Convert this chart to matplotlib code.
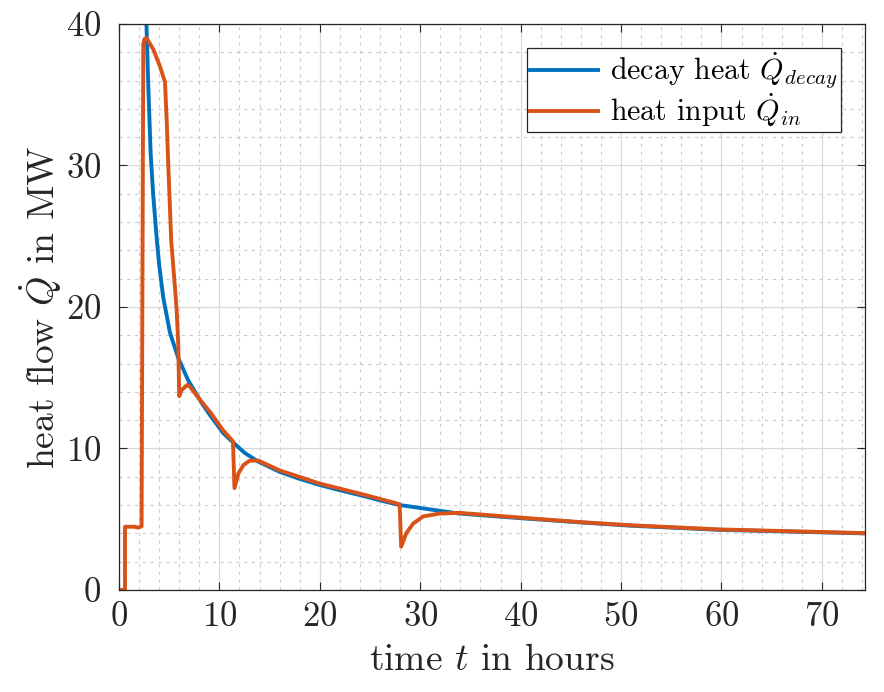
import matplotlib
matplotlib.use("Agg")
import matplotlib.pyplot as plt
from matplotlib.ticker import MultipleLocator

plt.rcParams['font.family'] = 'serif'
plt.rcParams['font.serif'] = ['cmr10']
plt.rcParams['mathtext.fontset'] = 'cm'
plt.rcParams['axes.formatter.use_mathtext'] = True

# decay heat
t_decay = [2.7, 2.92, 3.15, 3.4, 3.75, 4.0, 4.4, 5.07, 5.9, 6.9, 7.7, 8.3, 9.05, 10.4,
           11.4, 12.5, 13.8, 16.0, 18.0, 20.0, 22.0, 24.6, 26.0, 28.0, 33.9, 39.9,
           45.9, 50.8, 59.8, 74.3]
q_decay = [40.8, 35.6, 30.9, 28.0, 24.9, 23.0, 20.7, 18.2, 16.4, 14.8, 13.85, 13.15, 12.37, 11.07,
           10.4, 9.7, 9.1, 8.35, 7.85, 7.42, 7.05, 6.6, 6.33, 6.0, 5.4, 5.08,
           4.78, 4.55, 4.25, 4.0]

# heat input
t_in = [0.0, 0.6, 0.6, 1.6, 1.9, 2.25, 2.42, 2.55, 2.75, 3.42, 4.08, 4.58, 4.75, 4.9,
        5.2, 5.57, 5.74, 5.9, 6.0, 6.2, 6.8, 7.06, 8.0, 9.05, 10.35, 11.35, 11.5, 11.9,
        12.4, 13.0, 13.9, 16.0, 20.0, 24.6, 27.6, 27.95, 28.1, 28.6, 29.3, 30.3,
        31.9, 33.9, 39.9, 45.9, 50.8, 59.8, 74.3]
q_in = [0.0, 0.0, 4.47, 4.47, 4.4, 4.5, 38.6, 38.95, 39.0, 38.2, 37.0, 35.9, 33.2, 30.2,
        24.7, 21.4, 19.8, 17.4, 13.7, 14.1, 14.5, 14.37, 13.5, 12.6, 11.3, 10.5, 7.2, 8.25,
        8.83, 9.14, 9.14, 8.45, 7.52, 6.7, 6.13, 6.05, 3.06, 4.0, 4.7, 5.2,
        5.4, 5.45, 5.12, 4.8, 4.58, 4.28, 4.02]

fig = plt.figure(figsize=(8.84, 6.92), dpi=100)
ax = fig.add_axes([0.1346, 0.1474, 0.844, 0.818])

ax.plot(t_decay, q_decay, color='#0072BD', lw=2.8, label=r'decay heat $\dot{Q}_{decay}$')
ax.plot(t_in, q_in, color='#D95319', lw=2.8, label=r'heat input $\dot{Q}_{in}$')

ax.set_xlim(0, 74.3)
ax.set_ylim(0, 40)
ax.xaxis.set_major_locator(MultipleLocator(10))
ax.yaxis.set_major_locator(MultipleLocator(10))
ax.xaxis.set_minor_locator(MultipleLocator(2))
ax.yaxis.set_minor_locator(MultipleLocator(2))

ax.grid(which='major', color='#d9d9d9', lw=0.9, ls='-')
ax.grid(which='minor', color='#cccccc', lw=0.8, ls=(0, (3, 4)))
ax.set_axisbelow(True)

ax.tick_params(which='major', direction='in', length=6, width=0.8, top=True, right=True,
               labelsize=25, colors='#262626')
ax.tick_params(axis='x', which='major', pad=8)
ax.tick_params(axis='y', which='major', pad=13)
ax.tick_params(which='minor', length=0)
for s in ax.spines.values():
    s.set_color('#262626')
    s.set_linewidth(0.9)

ax.set_xlabel(r'time $t$ in hours', fontsize=27, color='#262626', labelpad=8)
ax.set_ylabel(r'heat flow $\dot{Q}$ in MW', fontsize=27, color='#262626', labelpad=1)

leg = ax.legend(loc='upper right', fontsize=21.5, fancybox=False, framealpha=1,
                edgecolor='#262626', handlelength=2.3, handletextpad=0.4,
                borderpad=0.1, labelspacing=0.0, borderaxespad=0.8)
leg.get_frame().set_linewidth(0.9)

fig.savefig('out.png', dpi=100)
